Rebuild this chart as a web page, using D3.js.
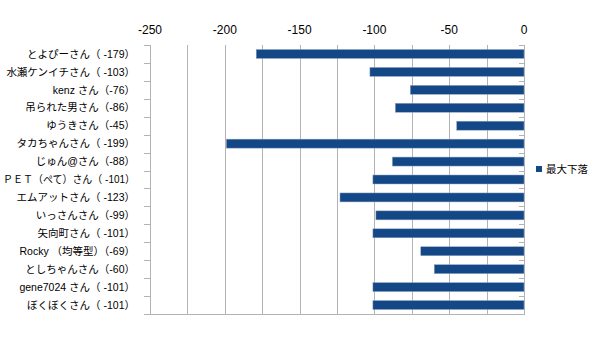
<!DOCTYPE html>
<html>
<head>
<meta charset="utf-8">
<script src="https://cdn.jsdelivr.net/npm/d3@7"></script>
<style>
  html, body { margin: 0; padding: 0; background: #fff; }
  svg { display: block; font-family: "Liberation Sans", Arial, "Noto Sans CJK JP", sans-serif; }
</style>
</head>
<body>
<svg id="chart" width="600" height="337"></svg>
<script>
// Participants and their maximum drawdown
const names = [
  "とよぴーさん（ -179）",
  "水瀬ケンイチさん（ -103）",
  "kenz さん（-76）",
  "吊られた男さん（-86）",
  "ゆうきさん（-45）",
  "タカちゃんさん（ -199）",
  "じゅん@さん（-88）",
  "ＰＥＴ（ぺて）さん（ -101）",
  "エムアットさん（ -123）",
  "いっさんさん（-99）",
  "矢向町さん（ -101）",
  "Rocky （均等型）（-69）",
  "としちゃんさん（-60）",
  "gene7024 さん（ -101）",
  "ぼくぼくさん（ -101）"
];
const drawdown = [-179, -103, -76, -86, -45, -199, -88, -101, -123, -99, -101, -69, -60, -101, -101];
const xTicks = [-250, -200, -150, -100, -50, 0];
const seriesName = "最大下落";

const svg = d3.select("#chart");
const plotL = 150, plotR = 524, plotT = 45, plotB = 314;

const x = d3.scaleLinear().domain([-250, 0]).range([plotL, plotR]);
const y = d3.scaleBand().domain(names).range([plotT, plotB]).paddingInner(0.5).paddingOuter(0.25);

// vertical gridlines every 25
const grid = d3.range(-250, 1, 25);
svg.append("g").selectAll("line").data(grid).join("line")
  .attr("x1", d => Math.round(x(d)) + 0.5).attr("x2", d => Math.round(x(d)) + 0.5)
  .attr("y1", plotT).attr("y2", plotB)
  .attr("stroke", "#b3b3b3").attr("stroke-width", 1);

// plot bottom edge
svg.append("line")
  .attr("x1", plotL).attr("x2", plotR + 1)
  .attr("y1", plotB + 0.5).attr("y2", plotB + 0.5)
  .attr("stroke", "#b3b3b3");

// category boundary ticks on the left edge and on the zero line
const bounds = d3.range(names.length + 1).map(i => plotT + i * (plotB - plotT) / names.length);
svg.append("g").selectAll("line").data(bounds).join("line")
  .attr("x1", plotL - 6).attr("x2", plotL)
  .attr("y1", d => Math.round(d) + 0.5).attr("y2", d => Math.round(d) + 0.5)
  .attr("stroke", "#b3b3b3");
svg.append("g").selectAll("line").data(bounds).join("line")
  .attr("x1", x(0) - 5).attr("x2", x(0))
  .attr("y1", d => Math.round(d) + 0.5).attr("y2", d => Math.round(d) + 0.5)
  .attr("stroke", "#b3b3b3");

// bars
svg.append("g").selectAll("rect").data(drawdown).join("rect")
  .attr("x", d => x(d))
  .attr("width", d => x(0) - x(d))
  .attr("y", (d, i) => y(names[i]))
  .attr("height", y.bandwidth())
  .attr("fill", "#134785")
  .attr("stroke", "#8fa6c6").attr("stroke-width", 0.5);

// top value axis labels
svg.append("g").selectAll("text").data(xTicks).join("text")
  .attr("x", d => x(d)).attr("y", 34)
  .attr("text-anchor", "middle")
  .attr("font-size", 12).attr("fill", "#000")
  .text(d => d);

// category labels (long ones squeezed to stay inside the left margin)
const labelRight = 135, labelMax = 132;
svg.append("g").selectAll("text").data(names).join("text")
  .attr("x", labelRight)
  .attr("y", d => y(d) + y.bandwidth() / 2)
  .attr("dy", "0.35em")
  .attr("text-anchor", "end")
  .attr("font-size", 10.5).attr("fill", "#000")
  .text(d => d)
  .each(function () {
    if (this.getComputedTextLength() > labelMax) {
      d3.select(this).attr("textLength", labelMax).attr("lengthAdjust", "spacingAndGlyphs");
    }
  });

// legend
const lg = svg.append("g").attr("transform", "translate(536,166)");
lg.append("rect").attr("width", 6).attr("height", 6).attr("fill", "#134785");
lg.append("text").attr("x", 10).attr("y", 3).attr("dy", "0.35em")
  .attr("font-size", 10.5).attr("fill", "#000").text(seriesName);
</script>
</body>
</html>
